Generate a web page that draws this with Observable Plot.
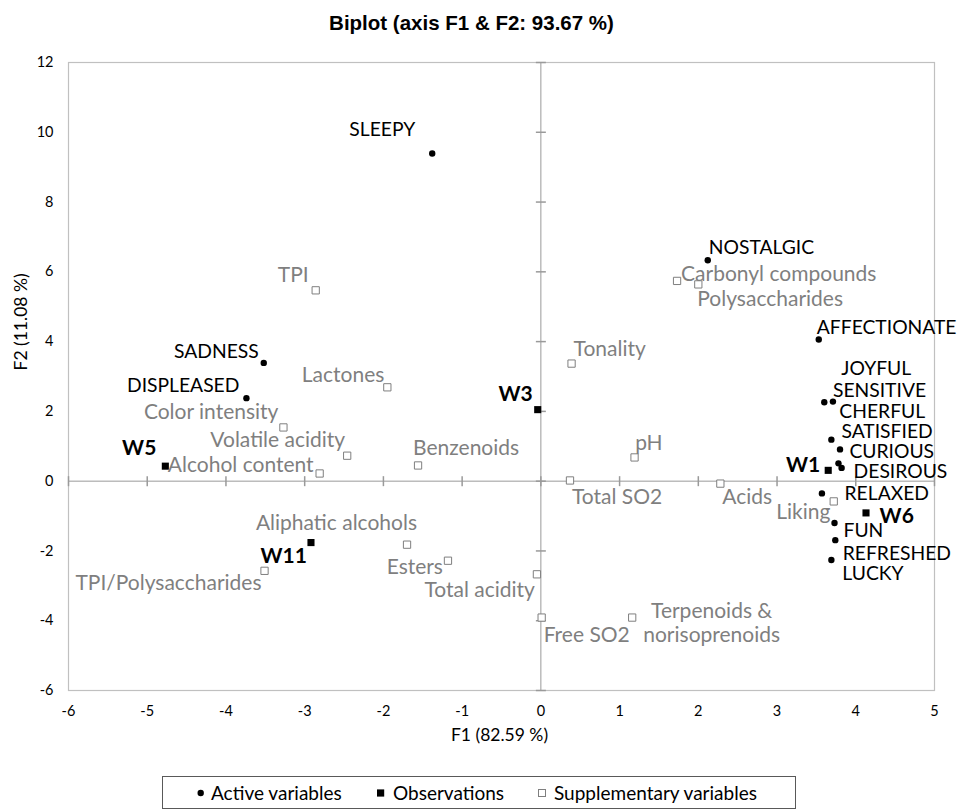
<!DOCTYPE html>
<html>
<head>
<meta charset="utf-8">
<script src="https://cdn.jsdelivr.net/npm/d3@7"></script>
<script src="https://cdn.jsdelivr.net/npm/@observablehq/plot@0.6"></script>
<style>
  body { margin: 0; background: #fff; }
  #wrap { position: relative; width: 957px; height: 810px; overflow: hidden; background: #fff; }
  #chart { position: absolute; left: 0; top: 0; }
  #title { position: absolute; left: 0; top: 13px; width: 943px; text-align: center;
           font-family: "Liberation Sans", Arial, sans-serif; font-weight: bold; font-size: 20.5px; line-height: 1; color: #000; }
  #legend { position: absolute; left: 0; top: 0; }
</style>
</head>
<body>
<div id="wrap">
  <div id="chart"></div>
  <div id="title"></div>
  <svg id="legend" width="957" height="810"></svg>
</div>
<script>
// ---------------- data ----------------
const chartTitle = "Biplot (axis F1 & F2: 93.67 %)";
const xTitle = "F1 (82.59 %)";
const yTitle = "F2 (11.08 %)";
const xTicks = [-6, -5, -4, -3, -2, -1, 0, 1, 2, 3, 4, 5];
const yTicks = [-6, -4, -2, 0, 2, 4, 6, 8, 10, 12];

const activeNames = ["SLEEPY", "NOSTALGIC", "AFFECTIONATE", "SADNESS", "DISPLEASED", "JOYFUL", "SENSITIVE", "CHERFUL", "SATISFIED", "CURIOUS", "DESIROUS", "RELAXED", "FUN", "REFRESHED", "LUCKY"];
const activeF1 = [-1.38, 2.12, 3.53, -3.52, -3.74, 3.60, 3.71, 3.69, 3.80, 3.78, 3.82, 3.57, 3.73, 3.74, 3.69];
const activeF2 = [9.39, 6.33, 4.06, 3.39, 2.38, 2.26, 2.28, 1.19, 0.91, 0.51, 0.38, -0.35, -1.20, -1.69, -2.26];

const obsNames = ["W1", "W3", "W5", "W6", "W11"];
const obsF1 = [3.65, -0.04, -4.77, 4.13, -2.92];
const obsF2 = [0.31, 2.05, 0.43, -0.91, -1.76];

const suppNames = ["TPI", "Carbonyl compounds", "Polysaccharides", "Tonality", "Lactones", "Color intensity", "Volatile acidity", "Alcohol content", "Benzenoids", "pH", "Total SO2", "Acids", "Liking", "Aliphatic alcohols", "Esters", "TPI/Polysaccharides", "Total acidity", "Free SO2", "Terpenoids &\nnorisoprenoids"];
const suppF1 = [-2.86, 1.73, 2.00, 0.39, -1.95, -3.27, -2.46, -2.81, -1.56, 1.19, 0.37, 2.28, 3.72, -1.70, -1.18, -3.51, -0.05, 0.01, 1.16];
const suppF2 = [5.47, 5.74, 5.64, 3.37, 2.69, 1.54, 0.73, 0.22, 0.45, 0.68, 0.02, -0.07, -0.58, -1.82, -2.28, -2.57, -2.67, -3.91, -3.91];

const legendLabels = ["Active variables", "Observations", "Supplementary variables"];

// ---------------- label placement (style: anchor, dx px, dy px) ----------------
const labelPlacement = {
  "SLEEPY": ["end", -17, -25], "NOSTALGIC": ["start", 1, -13.5], "AFFECTIONATE": ["start", -2, -12.7],
  "SADNESS": ["end", -5, -12.5], "DISPLEASED": ["end", -7, -13], "JOYFUL": ["start", 17, -34],
  "SENSITIVE": ["start", 0, -11.6], "CHERFUL": ["start", 8, -29], "SATISFIED": ["start", 1.4, -19],
  "CURIOUS": ["start", 11, -12.5], "DESIROUS": ["start", 12, 3], "RELAXED": ["start", 22.6, -0.5],
  "FUN": ["start", 9, 7], "REFRESHED": ["start", 7.4, 12.5], "LUCKY": ["start", 11, 13.3],
  "W1": ["end", -8, -6], "W3": ["end", -5, -16], "W5": ["end", -9, -19], "W6": ["start", 13.6, 2], "W11": ["end", -4, 13],
  "TPI": ["end", -7, -16.5], "Carbonyl compounds": ["start", 4, -8], "Polysaccharides": ["start", -1, 14],
  "Tonality": ["start", 2, -15], "Lactones": ["end", -3, -13], "Color intensity": ["end", -5, -16],
  "Volatile acidity": ["end", -2, -16.5], "Alcohol content": ["end", -6, -9], "Benzenoids": ["start", -5, -18],
  "pH": ["start", 0.6, -15.5], "Total SO2": ["start", 2, 15.5], "Acids": ["start", 2, 12.5],
  "Liking": ["end", -3.4, 9.4], "Aliphatic alcohols": ["end", 10, -22.6], "Esters": ["end", -5, 5],
  "TPI/Polysaccharides": ["end", -3, 11.5], "Total acidity": ["end", -2, 15], "Free SO2": ["start", 2, 16.5],
  "Terpenoids &\nnorisoprenoids": ["middle", 79.5, 4.5]
};

const GRAY = "#7f7f7f";

function labelMarks(names, f1, f2, style) {
  return names.map((name, i) => {
    const [anchor, dx, dy] = labelPlacement[name];
    return Plot.text([i], {
      x: (j) => f1[j], y: (j) => f2[j], text: (j) => names[j],
      textAnchor: anchor, dx, dy, lineAnchor: "middle", lineHeight: 1.16,
      ...style
    });
  });
}

const hTick = { draw(ctx, size) { const r = Math.sqrt(size / Math.PI); ctx.moveTo(-r, 0); ctx.lineTo(r, 0); } };
const vTick = { draw(ctx, size) { const r = Math.sqrt(size / Math.PI); ctx.moveTo(0, -r); ctx.lineTo(0, r); } };

const aIdx = d3.range(activeNames.length);
const oIdx = d3.range(obsNames.length);
const sIdx = d3.range(suppNames.length);
const fmt = (d) => String(d);

const plot = Plot.plot({
  width: 957, height: 810,
  marginTop: 62, marginBottom: 120, marginLeft: 68, marginRight: 23,
  style: { fontFamily: "Lato, sans-serif", fontSize: "14.5px", color: "#000", background: "transparent", overflow: "visible" },
  x: { domain: [-6, 5], ticks: xTicks, label: null },
  y: { domain: [-6, 12], ticks: yTicks, label: null },
  marks: [
    Plot.frame({ stroke: "#c0c0c0", strokeWidth: 1.2 }),
    Plot.ruleX([0], { stroke: "#9a9a9a" }),
    Plot.ruleY([0], { stroke: "#9a9a9a" }),
    Plot.dot(yTicks, { x: () => 0, y: (d) => d, symbol: hTick, r: 5, stroke: "#9a9a9a" }),
    Plot.dot(xTicks, { x: (d) => d, y: () => 0, symbol: vTick, r: 5, stroke: "#9a9a9a" }),
    Plot.axisX({ ticks: xTicks, tickFormat: fmt, tickSize: 0, tickPadding: 15, label: null, fill: "#000" }),
    Plot.axisY({ ticks: yTicks, tickFormat: fmt, tickSize: 0, tickPadding: 15, label: null, fill: "#000" }),
    Plot.text([xTitle], { frameAnchor: "bottom", text: (d) => d, dx: -2, dy: 50, fontSize: 17.5, fill: "#000" }),
    Plot.text([yTitle], { frameAnchor: "left", text: (d) => d, dx: -47, dy: -6, rotate: -90, fontSize: 17.5, fill: "#000" }),
    // supplementary variables
    Plot.dot(sIdx, { x: (i) => suppF1[i], y: (i) => suppF2[i], symbol: "square", r: 4.1, fill: "#fff", stroke: GRAY, strokeWidth: 1 }),
    // active variables
    Plot.dot(aIdx, { x: (i) => activeF1[i], y: (i) => activeF2[i], r: 3.2, fill: "#000", stroke: null }),
    // observations
    Plot.dot(oIdx, { x: (i) => obsF1[i], y: (i) => obsF2[i], symbol: "square", r: 4, fill: "#000", stroke: null }),
    ...labelMarks(suppNames, suppF1, suppF2, { fill: GRAY, fontSize: 21 }),
    ...labelMarks(activeNames, activeF1, activeF2, { fill: "#000", fontSize: 19.3 }),
    ...labelMarks(obsNames, obsF1, obsF2, { fill: "#000", fontWeight: "bold", fontSize: 21 })
  ]
});
document.getElementById("chart").append(plot);
document.getElementById("title").textContent = chartTitle;

// ---------------- legend ----------------
const lg = d3.select("#legend");
lg.append("rect").attr("x", 162.5).attr("y", 776.5).attr("width", 633).attr("height", 32)
  .attr("fill", "#fff").attr("stroke", "#595959").attr("stroke-width", 1);
const ly = 793;
lg.append("circle").attr("cx", 200.7).attr("cy", ly).attr("r", 3.2).attr("fill", "#000");
lg.append("rect").attr("x", 377).attr("y", ly - 3.6).attr("width", 7.2).attr("height", 7.2).attr("fill", "#000");
lg.append("rect").attr("x", 538.5).attr("y", ly - 3.5).attr("width", 7).attr("height", 7).attr("fill", "#fff").attr("stroke", GRAY);
const lx = [211, 393, 554];
legendLabels.forEach((t, i) => {
  lg.append("text").attr("x", lx[i]).attr("y", ly).attr("dy", "0.35em")
    .attr("font-family", "Lato, sans-serif").attr("font-size", 19).attr("fill", "#000").text(t);
});
</script>
</body>
</html>
